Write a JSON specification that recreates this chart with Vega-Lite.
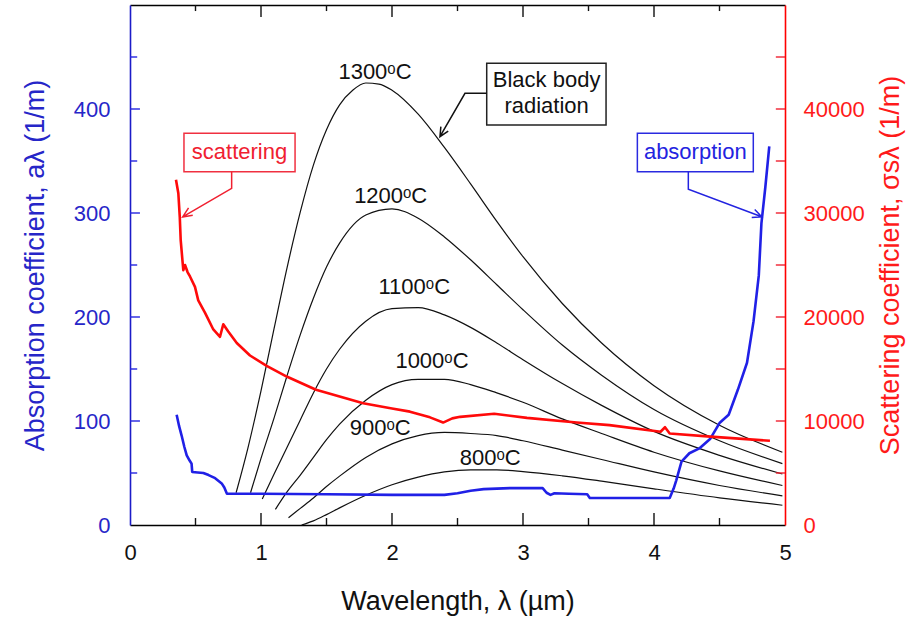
{
  "$schema": "https://vega.github.io/schema/vega-lite/v6.json",
  "width": 655,
  "height": 520,
  "autosize": {"type": "none"},
  "padding": {"left": 130, "top": 5, "right": 125, "bottom": 93},
  "background": "white",
  "config": {
    "view": {"stroke": null},
    "font": "Liberation Sans",
    "axis": {"grid": false, "labelFont": "Liberation Sans", "titleFont": "Liberation Sans", "labelFontSize": 22, "titleFontSize": 27, "titleFontWeight": "normal", "domainWidth": 1.6}
  },
  "datasets": {
    "bb": [
      {"T": "1300", "lam": 0.81, "val": 31}, {"T": "1300", "lam": 0.9, "val": 74}, {"T": "1300", "lam": 1.0, "val": 129}, {"T": "1300", "lam": 1.1, "val": 189}, {"T": "1300", "lam": 1.2, "val": 248}, {"T": "1300", "lam": 1.3, "val": 301}, {"T": "1300", "lam": 1.4, "val": 346}, {"T": "1300", "lam": 1.5, "val": 380}, {"T": "1300", "lam": 1.6, "val": 404}, {"T": "1300", "lam": 1.7, "val": 418}, {"T": "1300", "lam": 1.8, "val": 425}, {"T": "1300", "lam": 1.9, "val": 424}, {"T": "1300", "lam": 2.0, "val": 418}, {"T": "1300", "lam": 2.2, "val": 395}, {"T": "1300", "lam": 2.4, "val": 363}, {"T": "1300", "lam": 2.6, "val": 328}, {"T": "1300", "lam": 2.8, "val": 292}, {"T": "1300", "lam": 3.0, "val": 258}, {"T": "1300", "lam": 3.3, "val": 213}, {"T": "1300", "lam": 3.6, "val": 175}, {"T": "1300", "lam": 4.0, "val": 134}, {"T": "1300", "lam": 4.5, "val": 96}, {"T": "1300", "lam": 4.98, "val": 70},
      {"T": "1200", "lam": 0.92, "val": 31}, {"T": "1200", "lam": 1.0, "val": 64}, {"T": "1200", "lam": 1.1, "val": 103}, {"T": "1200", "lam": 1.2, "val": 144}, {"T": "1200", "lam": 1.3, "val": 183}, {"T": "1200", "lam": 1.4, "val": 218}, {"T": "1200", "lam": 1.5, "val": 248}, {"T": "1200", "lam": 1.6, "val": 271}, {"T": "1200", "lam": 1.8, "val": 298}, {"T": "1200", "lam": 2.0, "val": 304}, {"T": "1200", "lam": 2.2, "val": 295}, {"T": "1200", "lam": 2.4, "val": 277}, {"T": "1200", "lam": 2.6, "val": 255}, {"T": "1200", "lam": 2.8, "val": 231}, {"T": "1200", "lam": 3.0, "val": 207}, {"T": "1200", "lam": 3.3, "val": 173}, {"T": "1200", "lam": 3.6, "val": 144}, {"T": "1200", "lam": 4.0, "val": 111}, {"T": "1200", "lam": 4.5, "val": 81}, {"T": "1200", "lam": 4.98, "val": 59},
      {"T": "1100", "lam": 1.01, "val": 25}, {"T": "1100", "lam": 1.1, "val": 49}, {"T": "1100", "lam": 1.2, "val": 75}, {"T": "1100", "lam": 1.3, "val": 101}, {"T": "1100", "lam": 1.4, "val": 127}, {"T": "1100", "lam": 1.5, "val": 150}, {"T": "1100", "lam": 1.6, "val": 169}, {"T": "1100", "lam": 1.8, "val": 196}, {"T": "1100", "lam": 2.0, "val": 208}, {"T": "1100", "lam": 2.2, "val": 209}, {"T": "1100", "lam": 2.4, "val": 202}, {"T": "1100", "lam": 2.6, "val": 190}, {"T": "1100", "lam": 2.8, "val": 175}, {"T": "1100", "lam": 3.0, "val": 159}, {"T": "1100", "lam": 3.3, "val": 136}, {"T": "1100", "lam": 3.6, "val": 115}, {"T": "1100", "lam": 4.0, "val": 90}, {"T": "1100", "lam": 4.5, "val": 67}, {"T": "1100", "lam": 4.98, "val": 49},
      {"T": "1000", "lam": 1.11, "val": 15}, {"T": "1000", "lam": 1.2, "val": 32}, {"T": "1000", "lam": 1.3, "val": 48}, {"T": "1000", "lam": 1.4, "val": 65}, {"T": "1000", "lam": 1.5, "val": 82}, {"T": "1000", "lam": 1.6, "val": 97}, {"T": "1000", "lam": 1.8, "val": 120}, {"T": "1000", "lam": 2.0, "val": 135}, {"T": "1000", "lam": 2.2, "val": 140}, {"T": "1000", "lam": 2.4, "val": 140}, {"T": "1000", "lam": 2.6, "val": 135}, {"T": "1000", "lam": 2.8, "val": 127}, {"T": "1000", "lam": 3.0, "val": 118}, {"T": "1000", "lam": 3.3, "val": 102}, {"T": "1000", "lam": 3.6, "val": 88}, {"T": "1000", "lam": 4.0, "val": 70}, {"T": "1000", "lam": 4.5, "val": 52}, {"T": "1000", "lam": 4.98, "val": 38},
      {"T": "900", "lam": 1.21, "val": 7}, {"T": "900", "lam": 1.3, "val": 16}, {"T": "900", "lam": 1.4, "val": 26}, {"T": "900", "lam": 1.5, "val": 37}, {"T": "900", "lam": 1.6, "val": 47}, {"T": "900", "lam": 1.8, "val": 65}, {"T": "900", "lam": 2.0, "val": 78}, {"T": "900", "lam": 2.2, "val": 86}, {"T": "900", "lam": 2.4, "val": 89}, {"T": "900", "lam": 2.6, "val": 88}, {"T": "900", "lam": 2.8, "val": 86}, {"T": "900", "lam": 3.0, "val": 81}, {"T": "900", "lam": 3.3, "val": 72}, {"T": "900", "lam": 3.6, "val": 63}, {"T": "900", "lam": 4.0, "val": 51}, {"T": "900", "lam": 4.5, "val": 38}, {"T": "900", "lam": 4.98, "val": 28},
      {"T": "800", "lam": 1.31, "val": 0}, {"T": "800", "lam": 1.4, "val": 4}, {"T": "800", "lam": 1.5, "val": 10}, {"T": "800", "lam": 1.6, "val": 16.5}, {"T": "800", "lam": 1.8, "val": 28.6}, {"T": "800", "lam": 2.0, "val": 38.7}, {"T": "800", "lam": 2.2, "val": 46}, {"T": "800", "lam": 2.4, "val": 51}, {"T": "800", "lam": 2.6, "val": 53}, {"T": "800", "lam": 2.8, "val": 53}, {"T": "800", "lam": 3.0, "val": 51.4}, {"T": "800", "lam": 3.3, "val": 47.3}, {"T": "800", "lam": 3.6, "val": 42.2}, {"T": "800", "lam": 4.0, "val": 34.8}, {"T": "800", "lam": 4.5, "val": 26.1}, {"T": "800", "lam": 4.98, "val": 19}
    ],
    "abs": [
      {"lam": 0.356, "val": 106}, {"lam": 0.375, "val": 95}, {"lam": 0.394, "val": 86}, {"lam": 0.415, "val": 75}, {"lam": 0.433, "val": 67}, {"lam": 0.455, "val": 62}, {"lam": 0.47, "val": 59}, {"lam": 0.475, "val": 51}, {"lam": 0.56, "val": 50}, {"lam": 0.6, "val": 48}, {"lam": 0.65, "val": 45}, {"lam": 0.7, "val": 40}, {"lam": 0.72, "val": 36}, {"lam": 0.74, "val": 30}, {"lam": 1.0, "val": 30}, {"lam": 1.5, "val": 29.5}, {"lam": 2.0, "val": 29}, {"lam": 2.4, "val": 29}, {"lam": 2.5, "val": 30.5}, {"lam": 2.6, "val": 33}, {"lam": 2.7, "val": 34.5}, {"lam": 2.9, "val": 35.5}, {"lam": 3.15, "val": 35.5}, {"lam": 3.18, "val": 31}, {"lam": 3.21, "val": 29}, {"lam": 3.24, "val": 30.5}, {"lam": 3.35, "val": 30}, {"lam": 3.49, "val": 29.5}, {"lam": 3.51, "val": 26}, {"lam": 4.12, "val": 26}, {"lam": 4.15, "val": 35}, {"lam": 4.17, "val": 43}, {"lam": 4.21, "val": 61}, {"lam": 4.27, "val": 69}, {"lam": 4.35, "val": 74}, {"lam": 4.43, "val": 83}, {"lam": 4.5, "val": 98}, {"lam": 4.57, "val": 106}, {"lam": 4.64, "val": 130}, {"lam": 4.71, "val": 156}, {"lam": 4.76, "val": 196}, {"lam": 4.8, "val": 240}, {"lam": 4.82, "val": 290}, {"lam": 4.85, "val": 325}, {"lam": 4.88, "val": 364}
    ],
    "sca": [
      {"lam": 0.351, "val": 33200}, {"lam": 0.369, "val": 31900}, {"lam": 0.38, "val": 29600}, {"lam": 0.387, "val": 27400}, {"lam": 0.4, "val": 25500}, {"lam": 0.407, "val": 24500}, {"lam": 0.42, "val": 25000}, {"lam": 0.44, "val": 24300}, {"lam": 0.458, "val": 23900}, {"lam": 0.496, "val": 22900}, {"lam": 0.521, "val": 21600}, {"lam": 0.573, "val": 20400}, {"lam": 0.636, "val": 18800}, {"lam": 0.687, "val": 18100}, {"lam": 0.712, "val": 19300}, {"lam": 0.75, "val": 18600}, {"lam": 0.815, "val": 17500}, {"lam": 0.916, "val": 16300}, {"lam": 1.043, "val": 15300}, {"lam": 1.2, "val": 14250}, {"lam": 1.42, "val": 13000}, {"lam": 1.6, "val": 12350}, {"lam": 1.78, "val": 11700}, {"lam": 2.0, "val": 11200}, {"lam": 2.137, "val": 10900}, {"lam": 2.29, "val": 10350}, {"lam": 2.39, "val": 9850}, {"lam": 2.46, "val": 10250}, {"lam": 2.52, "val": 10400}, {"lam": 2.78, "val": 10700}, {"lam": 3.03, "val": 10300}, {"lam": 3.41, "val": 9850}, {"lam": 3.66, "val": 9600}, {"lam": 4.05, "val": 8970}, {"lam": 4.084, "val": 9400}, {"lam": 4.12, "val": 8800}, {"lam": 4.43, "val": 8500}, {"lam": 4.885, "val": 8100}
    ],
    "lbl": [
      {"lam": 1.87, "val": 435.6, "text": "1300ᵒC", "kind": "bb"},
      {"lam": 1.99, "val": 316, "text": "1200ᵒC", "kind": "bb"},
      {"lam": 2.17, "val": 229, "text": "1100ᵒC", "kind": "bb"},
      {"lam": 2.305, "val": 158, "text": "1000ᵒC", "kind": "bb"},
      {"lam": 1.91, "val": 93, "text": "900ᵒC", "kind": "bb"},
      {"lam": 2.75, "val": 64, "text": "800ᵒC", "kind": "bb"},
      {"lam": 3.18, "val": 428, "text": "Black body", "kind": "bb"},
      {"lam": 3.18, "val": 403, "text": "radiation", "kind": "bb"},
      {"lam": 0.836, "val": 358.6, "text": "scattering", "kind": "sca"},
      {"lam": 4.315, "val": 358.6, "text": "absorption", "kind": "abs"}
    ],
    "boxes": [
      {"lam": 0.412, "lam2": 1.26, "val": 339.7, "val2": 376.6, "kind": "sca"},
      {"lam": 3.873, "lam2": 4.758, "val": 339.7, "val2": 376.6, "kind": "abs"},
      {"lam": 2.723, "lam2": 3.634, "val": 384.6, "val2": 443.9, "kind": "bb"}
    ],
    "arrows": [
      {"kind": "sca", "ord": 1, "lam": 0.776, "val": 339.7}, {"kind": "sca", "ord": 2, "lam": 0.776, "val": 323.7}, {"kind": "sca", "ord": 3, "lam": 0.402, "val": 296.2}, {"kind": "sca", "ord": 4, "lam": 0.479, "val": 297.9}, {"kind": "sca", "ord": 5, "lam": 0.402, "val": 296.2}, {"kind": "sca", "ord": 6, "lam": 0.447, "val": 304.9},
      {"kind": "abs", "ord": 1, "lam": 4.262, "val": 339.7}, {"kind": "abs", "ord": 2, "lam": 4.262, "val": 322.8}, {"kind": "abs", "ord": 3, "lam": 4.822, "val": 296.4}, {"kind": "abs", "ord": 4, "lam": 4.769, "val": 303.3}, {"kind": "abs", "ord": 5, "lam": 4.822, "val": 296.4}, {"kind": "abs", "ord": 6, "lam": 4.746, "val": 295.7},
      {"kind": "bb", "ord": 1, "lam": 2.723, "val": 415.1}, {"kind": "bb", "ord": 2, "lam": 2.557, "val": 415.1}, {"kind": "bb", "ord": 3, "lam": 2.366, "val": 373.4}, {"kind": "bb", "ord": 4, "lam": 2.429, "val": 378.8}, {"kind": "bb", "ord": 5, "lam": 2.366, "val": 373.4}, {"kind": "bb", "ord": 6, "lam": 2.373, "val": 383}
    ],
    "ticks": [
      {"kind": "bb", "lam": 1, "lam2": 1, "val": 0, "val2": 11.5}, {"kind": "bb", "lam": 2, "lam2": 2, "val": 0, "val2": 11.5}, {"kind": "bb", "lam": 3, "lam2": 3, "val": 0, "val2": 11.5}, {"kind": "bb", "lam": 4, "lam2": 4, "val": 0, "val2": 11.5},
      {"kind": "bb", "lam": 0.5, "lam2": 0.5, "val": 0, "val2": 6.7}, {"kind": "bb", "lam": 1.5, "lam2": 1.5, "val": 0, "val2": 6.7}, {"kind": "bb", "lam": 2.5, "lam2": 2.5, "val": 0, "val2": 6.7}, {"kind": "bb", "lam": 3.5, "lam2": 3.5, "val": 0, "val2": 6.7}, {"kind": "bb", "lam": 4.5, "lam2": 4.5, "val": 0, "val2": 6.7},
      {"kind": "bb", "lam": 1, "lam2": 1, "val": 500, "val2": 488.5}, {"kind": "bb", "lam": 2, "lam2": 2, "val": 500, "val2": 488.5}, {"kind": "bb", "lam": 3, "lam2": 3, "val": 500, "val2": 488.5}, {"kind": "bb", "lam": 4, "lam2": 4, "val": 500, "val2": 488.5},
      {"kind": "bb", "lam": 0.5, "lam2": 0.5, "val": 500, "val2": 494.2}, {"kind": "bb", "lam": 1.5, "lam2": 1.5, "val": 500, "val2": 494.2}, {"kind": "bb", "lam": 2.5, "lam2": 2.5, "val": 500, "val2": 494.2}, {"kind": "bb", "lam": 3.5, "lam2": 3.5, "val": 500, "val2": 494.2}, {"kind": "bb", "lam": 4.5, "lam2": 4.5, "val": 500, "val2": 494.2},
      {"kind": "abs", "lam": 0, "lam2": 0.076, "val": 100, "val2": 100}, {"kind": "abs", "lam": 0, "lam2": 0.076, "val": 200, "val2": 200}, {"kind": "abs", "lam": 0, "lam2": 0.076, "val": 300, "val2": 300}, {"kind": "abs", "lam": 0, "lam2": 0.076, "val": 400, "val2": 400},
      {"kind": "abs", "lam": 0, "lam2": 0.055, "val": 50, "val2": 50}, {"kind": "abs", "lam": 0, "lam2": 0.055, "val": 150, "val2": 150}, {"kind": "abs", "lam": 0, "lam2": 0.055, "val": 250, "val2": 250}, {"kind": "abs", "lam": 0, "lam2": 0.055, "val": 350, "val2": 350}, {"kind": "abs", "lam": 0, "lam2": 0.055, "val": 450, "val2": 450},
      {"kind": "sca", "lam": 5, "lam2": 4.93, "val": 50, "val2": 50}, {"kind": "sca", "lam": 5, "lam2": 4.93, "val": 100, "val2": 100}, {"kind": "sca", "lam": 5, "lam2": 4.93, "val": 150, "val2": 150}, {"kind": "sca", "lam": 5, "lam2": 4.93, "val": 200, "val2": 200}, {"kind": "sca", "lam": 5, "lam2": 4.93, "val": 250, "val2": 250}, {"kind": "sca", "lam": 5, "lam2": 4.93, "val": 300, "val2": 300}, {"kind": "sca", "lam": 5, "lam2": 4.93, "val": 350, "val2": 350}, {"kind": "sca", "lam": 5, "lam2": 4.93, "val": 400, "val2": 400}, {"kind": "sca", "lam": 5, "lam2": 4.93, "val": 450, "val2": 450}
    ]
  },
  "layer": [
    {
      "encoding": {
        "x": {"field": "lam", "type": "quantitative", "scale": {"domain": [0, 5], "nice": false, "zero": false},
          "axis": {"orient": "bottom", "title": "Wavelength, λ (µm)", "values": [0, 1, 2, 3, 4, 5], "format": "d", "ticks": false, "zindex": 0,
            "domainColor": "#000000", "labelColor": "#111111", "titleColor": "#111111",
            "labelPadding": 17, "labelFlush": false, "titleY": 84, "titleBaseline": "alphabetic"}},
        "y": {"field": "val", "type": "quantitative", "scale": {"domain": [0, 500], "nice": false},
          "axis": {"orient": "left", "title": "Absorption coefficient, aλ (1/m)", "values": [0, 100, 200, 300, 400], "ticks": false, "zindex": 0,
            "domainColor": "#1c1cc8", "labelColor": "#2626c8", "titleColor": "#2626c8",
            "labelPadding": 20, "labelFlush": false, "titleX": -95, "titleBaseline": "middle"}}
      },
      "layer": [
        {"data": {"name": "bb"}, "mark": {"type": "line", "color": "#111111", "strokeWidth": 1.2, "interpolate": "monotone"}, "encoding": {"detail": {"field": "T"}}},
        {"data": {"name": "abs"}, "mark": {"type": "line", "color": "#2020e6", "strokeWidth": 2.6, "strokeJoin": "round"}, "encoding": {}}
      ]
    },
    {
      "data": {"name": "sca"},
      "mark": {"type": "line", "color": "#ff0a0a", "strokeWidth": 2.6, "strokeJoin": "round"},
      "encoding": {
        "x": {"field": "lam", "type": "quantitative", "scale": {"domain": [0, 5], "nice": false, "zero": false},
          "axis": {"orient": "top", "labels": false, "title": null, "ticks": false, "zindex": 0, "domainColor": "#000000"}},
        "y": {"field": "val", "type": "quantitative", "scale": {"domain": [0, 50000], "nice": false},
          "axis": {"orient": "right", "title": "Scattering coefficient, σsλ (1/m)", "values": [0, 10000, 20000, 30000, 40000],
            "format": "d", "ticks": false, "zindex": 0,
            "domainColor": "#ff0000", "labelColor": "#ff1a1a", "titleColor": "#ff1a1a",
            "labelPadding": 18, "labelFlush": false, "titleAngle": 270, "titleX": 105, "titleBaseline": "middle"}}
      }
    },
    {
      "encoding": {
        "x": {"field": "lam", "type": "quantitative", "scale": {"domain": [0, 5], "nice": false, "zero": false}, "axis": null},
        "y": {"field": "val", "type": "quantitative", "scale": {"domain": [0, 500], "nice": false}, "axis": null}
      },
      "layer": [
        {"data": {"name": "boxes"}, "mark": {"type": "rect", "fill": "white", "strokeWidth": 1.5},
          "encoding": {"x2": {"field": "lam2"}, "y2": {"field": "val2"},
            "stroke": {"field": "kind", "type": "nominal", "scale": {"domain": ["bb", "sca", "abs"], "range": ["#222222", "#f03040", "#2a2ae0"]}, "legend": null}}},
        {"data": {"name": "arrows"}, "mark": {"type": "line", "strokeWidth": 1.5},
          "encoding": {"order": {"field": "ord", "type": "quantitative"}, "detail": {"field": "kind"},
            "color": {"field": "kind", "type": "nominal", "scale": {"domain": ["bb", "sca", "abs"], "range": ["#111111", "#f02030", "#2323e0"]}, "legend": null}}},
        {"data": {"name": "lbl"}, "mark": {"type": "text", "font": "Liberation Sans", "fontSize": 22, "baseline": "middle", "align": "center"},
          "encoding": {"text": {"field": "text"},
            "color": {"field": "kind", "type": "nominal", "scale": {"domain": ["bb", "sca", "abs"], "range": ["#111111", "#f02030", "#2323e0"]}, "legend": null}}},
        {"data": {"name": "ticks"}, "mark": {"type": "rule", "strokeWidth": 1.4},
          "encoding": {"x2": {"field": "lam2"}, "y2": {"field": "val2"},
            "color": {"field": "kind", "type": "nominal", "scale": {"domain": ["bb", "sca", "abs"], "range": ["#111111", "#f02030", "#2323e0"]}, "legend": null}}}
      ]
    }
  ],
  "resolve": {"scale": {"y": "independent"}, "axis": {"x": "independent", "y": "independent"}}
}
